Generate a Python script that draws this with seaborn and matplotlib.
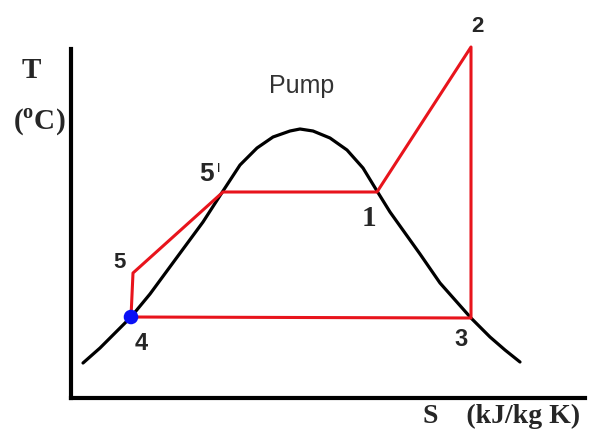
import matplotlib
matplotlib.use("Agg")
import matplotlib.pyplot as plt
import seaborn as sns
import pandas as pd

# ---- data (arbitrary S / T units) ----
dome_s = [12, 29, 44, 60, 79, 104, 132, 152, 169, 186, 202, 219, 229, 242, 259, 276, 292, 306, 319, 329, 349, 369, 400, 419, 434, 449]
dome_t = [35, 50, 65, 81, 104, 138, 176, 207, 233, 250, 261, 267, 269, 267, 260, 248, 230, 207, 186, 172, 144, 115, 80, 61, 48, 36]

cycle_states = ["4", "5", "5'", "1", "2", "3", "4"]
cycle_s = [60, 62, 152, 306, 400, 400, 60]
cycle_t = [81, 125, 206, 206, 351, 80, 81]

pump_state_s = [60]
pump_state_t = [81]

W, H = 592, 442
sns.set_style("white")
plt.rcParams['mathtext.fontset'] = 'custom'
plt.rcParams['mathtext.rm'] = 'Liberation Serif:bold'
plt.rcParams['mathtext.bf'] = 'Liberation Serif:bold'

fig = plt.figure(figsize=(W / 100, H / 100), dpi=100)
x0, x1, y0, y1 = 71, 585, 398, 49
ax = fig.add_axes([x0 / W, 1 - y0 / H, (x1 - x0) / W, (y0 - y1) / H])
ax.set_xlim(0, x1 - x0)
ax.set_ylim(0, y0 - y1)

dome = pd.DataFrame({"s": dome_s, "t": dome_t})
cyc = pd.DataFrame({"s": cycle_s, "t": cycle_t, "state": cycle_states})

sns.lineplot(data=dome, x="s", y="t", sort=False, estimator=None, color="black", lw=2.3, ax=ax)
sns.lineplot(data=cyc, x="s", y="t", sort=False, estimator=None, color="#e8141c", lw=2.2, ax=ax)
for ln in ax.lines:
    ln.set_clip_on(False)
    ln.set_solid_joinstyle("round")
sns.scatterplot(x=pump_state_s, y=pump_state_t, color="#0a10f5", s=110, edgecolor="none", ax=ax, zorder=5, clip_on=False)

ax.set_xticks([]); ax.set_yticks([])
ax.set_xlabel(""); ax.set_ylabel("")
for sp in ["top", "right"]:
    ax.spines[sp].set_visible(False)
for sp in ["left", "bottom"]:
    ax.spines[sp].set_linewidth(3)
    ax.spines[sp].set_color("black")

def t(px, py, s, **kw):
    fig.text(px / W, 1 - py / H, s, ha=kw.pop("ha", "center"), va=kw.pop("va", "center"), **kw)

serif = dict(family="Liberation Serif", weight="bold")
sans = dict(family="Liberation Sans", weight="bold")
t(31, 71, "T", fontsize=21, **serif)
t(39, 122, r"($^{\rm o}$C)", fontsize=21, **serif)
t(502, 416, "S    (kJ/kg K)", fontsize=20, **serif)
t(302, 93, "Pump", fontsize=18, family="Liberation Sans", color="#333333", va="baseline")
t(477, 27, "2", fontsize=16, **sans)
t(207, 174, "5", fontsize=19, **sans)
t(219, 169, "I", fontsize=9, family="Liberation Sans", color="black")
t(369, 218, "1", fontsize=21, **serif)
t(120, 262, "5", fontsize=16, **sans)
t(141, 344, "4", fontsize=17, **sans)
t(461, 339, "3", fontsize=17, **sans)

fig.savefig("out.png", dpi=100)
